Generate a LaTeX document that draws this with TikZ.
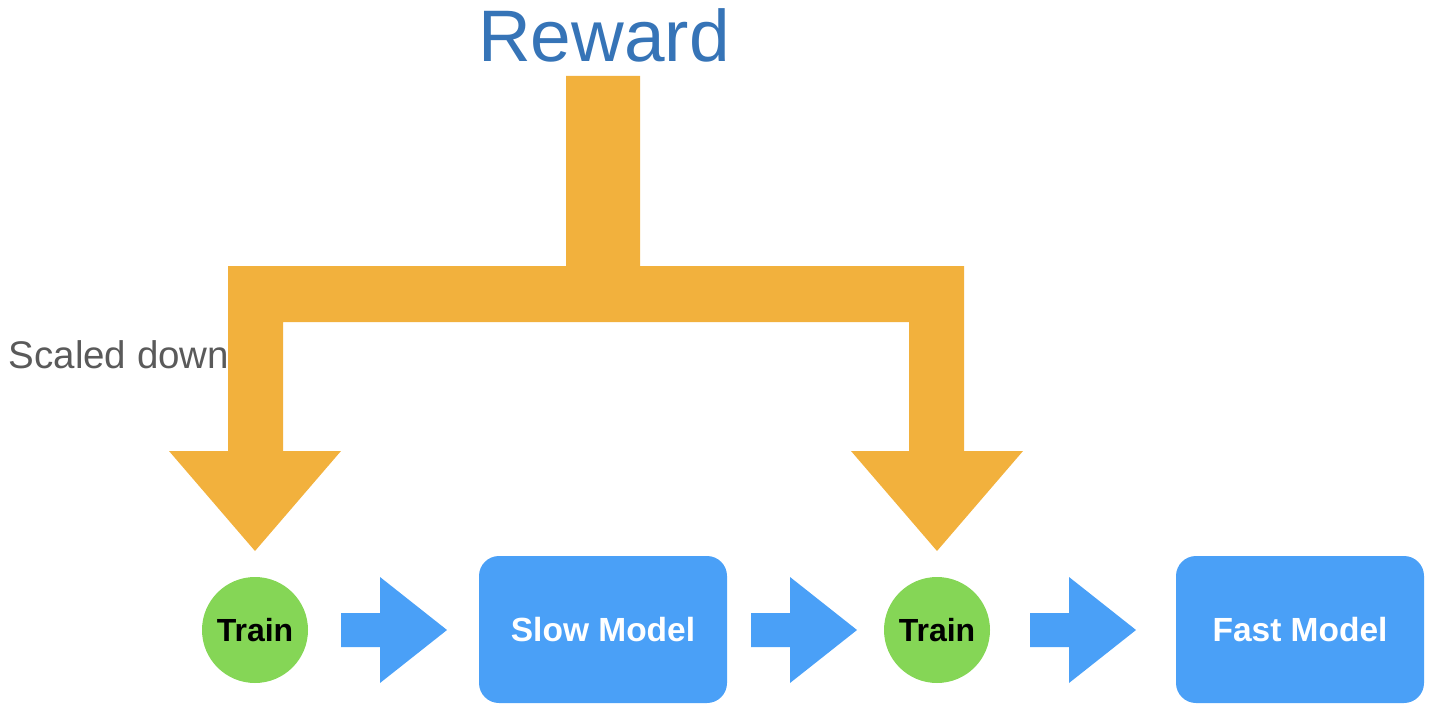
\documentclass[tikz,border=0pt]{standalone}
\usepackage{fontspec}
\setmainfont{Liberation Sans}
\definecolor{rorange}{HTML}{F2B13D}
\definecolor{rblue}{HTML}{4AA0F7}
\definecolor{rgreen}{HTML}{85D656}
\definecolor{rtitle}{HTML}{3674B7}
\definecolor{rgray}{HTML}{5A5A5A}
\tikzset{
  trainnode/.style={circle, fill=rgreen, minimum size=106pt, inner sep=0pt,
    font=\fontsize{32}{36}\selectfont\bfseries, text=black},
  modelnode/.style={rectangle, rounded corners=20pt, fill=rblue, minimum width=248pt,
    minimum height=147pt, inner sep=0pt, font=\fontsize{33.5}{38}\selectfont\bfseries, text=white},
  blockarrow/.pic={\fill[rblue] (0,-17) -- (39,-17) -- (39,-53) -- (106,0) -- (39,53) -- (39,17) -- (0,17) -- cycle;}
}
\begin{document}
\begin{tikzpicture}[x=1pt,y=-1pt]
\useasboundingbox (0,0) rectangle (1429,714);
\node[anchor=base, inner sep=0pt, text=rtitle, font=\fontsize{73}{80}\selectfont] (reward) at (604,62) {Reward};
\node[anchor=base west, inner sep=0pt, text=rgray, font=\fontsize{38.5}{42}\selectfont] (scaled) at (8.5,368) {Scaled down};
\node[trainnode] (train1) at (255,630) {Train};
\node[modelnode] (slow) at (603,629.5) {Slow Model};
\node[trainnode] (train2) at (937,630) {Train};
\node[modelnode] (fast) at (1300,629.5) {Fast Model};
\coordinate (tip1) at (255,551);
\coordinate (tip2) at (937,551);
\fill[rorange] (566,76) -- (640,76) -- (640,266) -- (964,266) -- (964,451) -- (1023,451)
  -- (tip2) -- (851,451) -- (909,451) -- (909,322) -- (283,322) -- (283,451) -- (341,451)
  -- (tip1) -- (169,451) -- (228,451) -- (228,266) -- (566,266) -- cycle;
\pic at (341,630) {blockarrow};
\pic at (751,630) {blockarrow};
\pic at (1030,630) {blockarrow};
\end{tikzpicture}
\end{document}
